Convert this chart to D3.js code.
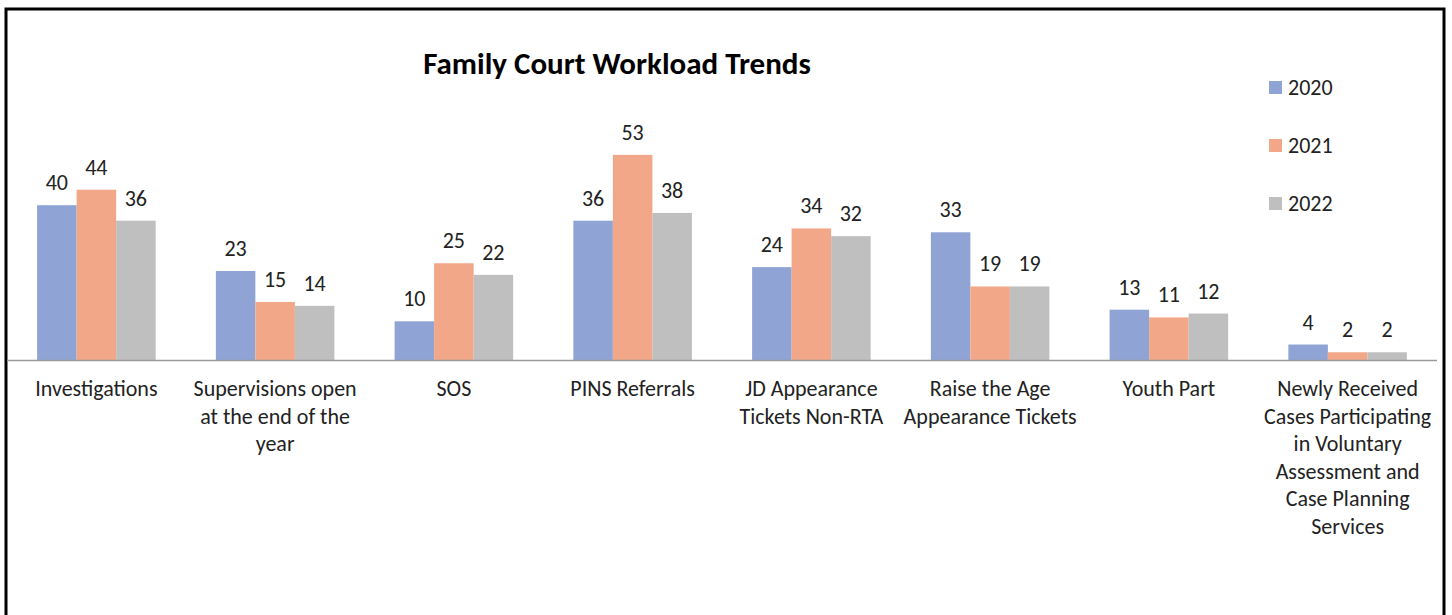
<!DOCTYPE html>
<html>
<head>
<meta charset="utf-8">
<script src="https://cdn.jsdelivr.net/npm/d3@7"></script>
<style>
  body { margin: 0; background: #fff; }
  text { font-family: Carlito, Calibri, Lato, sans-serif; fill: #222; }
</style>
</head>
<body>
<script>
const categories = [
  'Investigations',
  'Supervisions open\nat the end of the\nyear',
  'SOS',
  'PINS Referrals',
  'JD Appearance\nTickets Non-RTA',
  'Raise the Age\nAppearance Tickets',
  'Youth Part',
  'Newly Received\nCases Participating\nin Voluntary\nAssessment and\nCase Planning\nServices'
]
const series = ['2020', '2021', '2022']
const values2020 = [40, 23, 10, 36, 24, 33, 13, 4]
const values2021 = [44, 15, 25, 53, 34, 19, 11, 2]
const values2022 = [36, 14, 22, 38, 32, 19, 12, 2]
const colors = ['#8fa4d4', '#f1a788', '#bfbfbf']

const WIDTH = 1452
const HEIGHT = 615
const BASE = 360

const allValues = [values2020, values2021, values2022]
const rows = categories.map((c, i) => ({
  cat: c,
  vals: series.map((s, j) => ({ key: s, v: allValues[j][i], color: colors[j] }))
}))

const svg = d3.select('body').append('svg')
  .attr('width', WIDTH).attr('height', HEIGHT)

// frame
svg.append('rect')
  .attr('x', 6).attr('y', 9)
  .attr('width', 1438).attr('height', 640)
  .attr('fill', 'none').attr('stroke', '#000').attr('stroke-width', 3)

const x = d3.scaleBand().domain(categories).range([7, 1437])
const xSub = d3.scaleBand().domain(series).range([0, x.bandwidth()]).paddingOuter(0.762)
const y = d3.scaleLinear().domain([0, 60]).range([BASE, BASE - 232.2])

const groups = svg.selectAll('g.grp')
  .data(rows)
  .enter()
  .append('g')
  .attr('class', 'grp')
  .attr('transform', d => `translate(${x(d.cat)},0)`)

groups.selectAll('rect')
  .data(d => d.vals)
  .enter()
  .append('rect')
  .attr('x', d => xSub(d.key))
  .attr('width', xSub.bandwidth())
  .attr('y', d => y(d.v))
  .attr('height', d => BASE - y(d.v))
  .attr('fill', d => d.color)

groups.selectAll('text.val')
  .data(d => d.vals)
  .enter()
  .append('text')
  .attr('class', 'val')
  .attr('x', d => xSub(d.key) + xSub.bandwidth() / 2)
  .attr('y', d => y(d.v) - 15)
  .attr('text-anchor', 'middle')
  .style('font-size', '22px')
  .text(d => d.v)

// axis line
svg.append('line')
  .attr('x1', x.range()[0]).attr('x2', x.range()[1])
  .attr('y1', BASE + 0.5).attr('y2', BASE + 0.5)
  .attr('stroke', '#9a9a9a').attr('stroke-width', 1.5)

// category labels
const lab = svg.selectAll('text.cat')
  .data(categories)
  .enter()
  .append('text')
  .attr('class', 'cat')
  .attr('text-anchor', 'middle')
  .style('font-size', '22px')

lab.selectAll('tspan')
  .data(d => d.split('\n').map(t => ({ t, c: d })))
  .enter()
  .append('tspan')
  .attr('x', d => x(d.c) + x.bandwidth() / 2)
  .attr('y', (d, i) => 396 + i * 27.5)
  .text(d => d.t)

// title
svg.append('text')
  .attr('x', 617).attr('y', 74)
  .attr('text-anchor', 'middle')
  .style('font-size', '31px')
  .style('font-weight', 'bold')
  .style('fill', '#000')
  .text('Family Court Workload Trends')

// legend
const leg = svg.selectAll('g.leg')
  .data(series)
  .enter()
  .append('g')
  .attr('class', 'leg')
  .attr('transform', (d, i) => `translate(1269,${81 + i * 58})`)

leg.append('rect')
  .attr('width', 13).attr('height', 13)
  .attr('fill', (d, i) => colors[i])

leg.append('text')
  .attr('x', 19).attr('y', 14)
  .style('font-size', '22px')
  .text(d => d)
</script>
</body>
</html>
